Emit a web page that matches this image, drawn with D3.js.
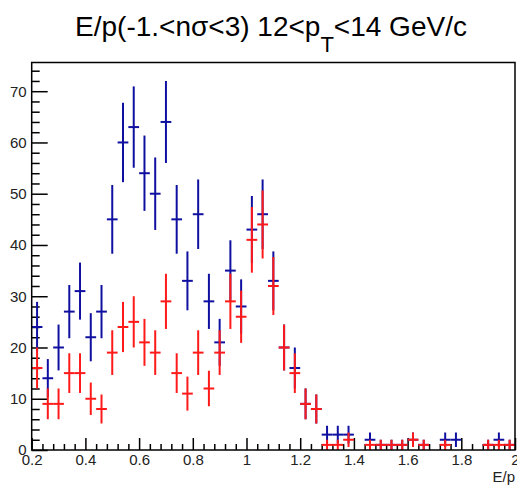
<!DOCTYPE html>
<html>
<head>
<meta charset="utf-8">
<script src="https://cdn.jsdelivr.net/npm/d3@7"></script>
<style>
  body { margin: 0; background: #fff; }
  svg { display: block; font-family: "Liberation Sans", Arial, sans-serif; }
</style>
</head>
<body>
<div class="chart"></div>
<script>
// bin centres of E/p (bin width 0.04)
var binCenters = [0.22, 0.26, 0.30, 0.34, 0.38, 0.42, 0.46, 0.50, 0.54, 0.58,
                  0.62, 0.66, 0.70, 0.74, 0.78, 0.82, 0.86, 0.90, 0.94, 0.98,
                  1.02, 1.06, 1.10, 1.14, 1.18, 1.22, 1.26, 1.30, 1.34, 1.38,
                  1.42, 1.46, 1.50, 1.54, 1.58, 1.62, 1.66, 1.70, 1.74, 1.78,
                  1.82, 1.86, 1.90, 1.94, 1.98];
var binWidth = 0.04;

// blue histogram counts
var blueCounts = [24, 14, 20, 27, 31, 22, 27, 45, 60, 63,
                  54, 50, 64, 45, 33, 46, 29, 21, 35, 28,
                  43, 46, 33, 20, 16, 9, 8, 3, 3, 3,
                  0, 2, 1, 1, 1, 2, 1, 0, 2, 2,
                  0, 0, 1, 2, 1];
// red histogram counts
var redCounts = [16, 9, 9, 15, 15, 10, 8, 19, 24, 25,
                 21, 19, 29, 15, 11, 19, 12, 19, 29, 26,
                 41, 44, 32, 20, 15, 9, 8, 1, 1, 2,
                 0, 1, 1, 1, 1, 2, 1, 0, 1, 0,
                 0, 0, 1, 1, 1];

var xTicks = [0.2, 0.4, 0.6, 0.8, 1.0, 1.2, 1.4, 1.6, 1.8, 2.0];
var yTicks = [0, 10, 20, 30, 40, 50, 60, 70];

var width = 517, height = 486;
var margin = {left: 31.7, right: 2, top: 62.5, bottom: 36};

var svg = d3.select(".chart").append("svg")
    .attr("width", width)
    .attr("height", height);

var x = d3.scaleLinear().domain([0.2, 2.0]).range([margin.left, width - margin.right]);
var y = d3.scaleLinear().domain([0, 75.6]).range([height - margin.bottom, margin.top]);

// title
var title = svg.append("text")
    .attr("x", 271)
    .attr("y", 36)
    .attr("text-anchor", "middle")
    .attr("font-size", "28px")
    .attr("fill", "#000");
title.append("tspan").text("E/p(-1.<n\u03c3<3) 12<p");
title.append("tspan").attr("font-size", "22px").attr("dy", 16).text("T");
title.append("tspan").attr("dy", -16).text("<14 GeV/c");

// x axis: major + minor ticks pointing inward
var xMinor = d3.range(0.24, 2.0, 0.04).filter(function(v) {
  return Math.abs(v * 5 - Math.round(v * 5)) > 1e-6;
});
svg.append("g")
    .attr("transform", "translate(0," + y(0) + ")")
    .call(d3.axisBottom(x).tickValues(xMinor).tickSize(-6).tickFormat(""))
    .call(function(g) { g.select(".domain").remove(); });

var xAxis = svg.append("g")
    .attr("transform", "translate(0," + y(0) + ")")
    .call(d3.axisBottom(x).tickValues(xTicks).tickSize(-12).tickPadding(4)
      .tickFormat(function(d) { return String(+d.toFixed(1)); }));
xAxis.select(".domain").remove();
xAxis.selectAll("text").attr("font-size", "15px").attr("fill", "#222")
    .attr("font-family", "Liberation Sans, Arial, sans-serif");

// y axis
var yMinor = d3.range(2, 76, 2).filter(function(v) { return v % 10 !== 0; });
svg.append("g")
    .attr("transform", "translate(" + x(0.2) + ",0)")
    .call(d3.axisLeft(y).tickValues(yMinor).tickSize(-8).tickFormat(""))
    .call(function(g) { g.select(".domain").remove(); });

var yAxis = svg.append("g")
    .attr("transform", "translate(" + x(0.2) + ",0)")
    .call(d3.axisLeft(y).tickValues(yTicks).tickSize(-16).tickPadding(5));
yAxis.select(".domain").remove();
yAxis.selectAll("text").attr("font-size", "15px").attr("fill", "#222")
    .attr("font-family", "Liberation Sans, Arial, sans-serif");

svg.selectAll(".tick line").attr("stroke", "#000").attr("stroke-width", 1.5);

// axis title
svg.append("text")
    .attr("x", width - 2)
    .attr("y", 482)
    .attr("text-anchor", "end")
    .attr("font-size", "15px")
    .attr("fill", "#222")
    .text("E/p");

// draw one histogram as error crosses (sqrt N errors)
function drawHist(counts, color) {
  var pts = binCenters.map(function(c, i) { return {x: c, n: counts[i]}; })
      .filter(function(d) { return d.n > 0; });

  var g = svg.append("g").attr("stroke", color).attr("stroke-width", 2);

  g.selectAll(".hbar").data(pts).enter().append("line")
      .attr("x1", function(d) { return x(d.x - binWidth / 2); })
      .attr("x2", function(d) { return x(d.x + binWidth / 2); })
      .attr("y1", function(d) { return y(d.n); })
      .attr("y2", function(d) { return y(d.n); });

  g.selectAll(".vbar").data(pts).enter().append("line")
      .attr("x1", function(d) { return x(d.x); })
      .attr("x2", function(d) { return x(d.x); })
      .attr("y1", function(d) { return y(Math.max(0, d.n - Math.sqrt(d.n))); })
      .attr("y2", function(d) { return y(d.n + Math.sqrt(d.n)); });
}

drawHist(blueCounts, "#1010a0");
drawHist(redCounts, "#ff1a1a");

// frame
svg.append("rect")
    .attr("x", x(0.2))
    .attr("y", y(75.6))
    .attr("width", x(2.0) - x(0.2))
    .attr("height", y(0) - y(75.6))
    .attr("fill", "none")
    .attr("stroke", "#000")
    .attr("stroke-width", 1.5);
</script>
</body>
</html>
